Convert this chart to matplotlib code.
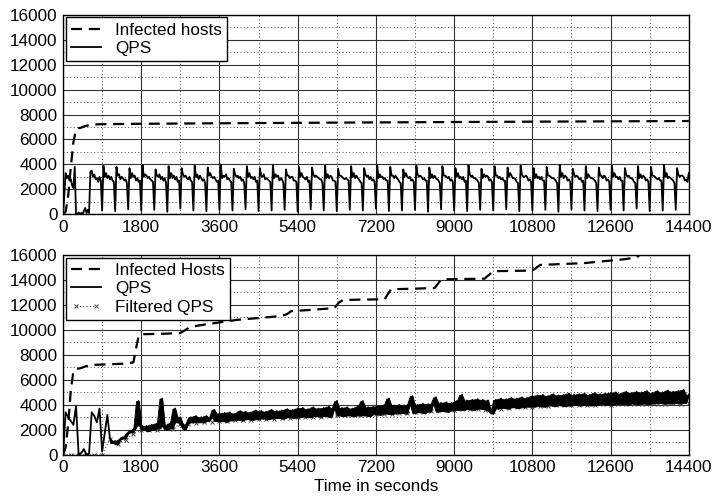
import numpy as np
import matplotlib
matplotlib.use("Agg")
from matplotlib import pyplot as plt
from matplotlib.ticker import MultipleLocator
from matplotlib.legend_handler import HandlerLine2D

plt.rcParams['font.family'] = ['Liberation Sans', 'DejaVu Sans']

# ---- top panel: infected hosts (time, value)
inf_top_t = [0, 60, 120, 180, 240, 300, 360, 420, 480, 600, 800, 1800, 3600, 7200, 10800, 14400]
inf_top_v = [0, 200, 1500, 3800, 5800, 6800, 6900, 6950, 7050, 7150, 7220, 7260, 7300, 7370, 7430, 7480]

# ---- top panel: QPS, one row per 300 s cycle, samples every 30 s
qps_top_cycles = [
    [0, 1500, 3300, 2900, 3100, 2700, 2800, 2300, 2100, 3800],
    [0, 0, 150, 0, 100, 0, 250, 500, 100, 350],
    [100, 3400, 3500, 3000, 3200, 2800, 2900, 2600, 3000, 2700],
    [300, 3900, 3000, 3300, 2900, 3100, 2800, 3000, 2700, 2600],
    [250, 3800, 3100, 3200, 2800, 3000, 2900, 2700, 2800, 2500],
    [400, 3700, 2900, 3300, 3000, 3100, 2700, 2900, 2600, 2700],
    [300, 3950, 3000, 3200, 3100, 2900, 3000, 2800, 2700, 2600],
    [350, 3600, 3100, 3000, 3200, 2800, 3000, 2700, 2900, 2500],
    [200, 3850, 2900, 3300, 2900, 3100, 2800, 3000, 2600, 2700],
    [450, 3700, 3200, 3000, 3100, 2900, 2800, 3000, 2700, 2600],
    [300, 3900, 3000, 3200, 2800, 3100, 2900, 2700, 2800, 2500],
    [250, 3750, 3100, 3300, 3000, 2900, 3000, 2800, 2600, 2700],
    [350, 4000, 2900, 3100, 3000, 3200, 2800, 2900, 2700, 2600],
    [300, 3650, 3200, 3000, 3100, 2900, 3000, 2700, 2800, 2500],
    [400, 3850, 3000, 3300, 2900, 3000, 2800, 3000, 2600, 2700],
    [250, 3700, 3100, 3000, 3200, 2800, 2900, 2800, 2700, 2600],
    [300, 3950, 2900, 3200, 3000, 3100, 2700, 2900, 2800, 2500],
    [350, 3600, 3100, 3100, 2900, 3000, 3000, 2700, 2700, 2600],
    [200, 3800, 3000, 3300, 3000, 2900, 2800, 3000, 2600, 2700],
    [400, 3750, 3200, 3000, 3100, 3000, 2900, 2800, 2800, 2500],
    [300, 3900, 2900, 3200, 2900, 3100, 3000, 2700, 2700, 2600],
    [250, 3650, 3100, 3100, 3000, 2900, 2800, 2900, 2800, 2700],
    [350, 3850, 3000, 3300, 2900, 3100, 2900, 2800, 2600, 2500],
    [300, 3700, 3200, 3000, 3100, 2800, 3000, 2700, 2800, 2600],
    [450, 3950, 2900, 3200, 3000, 3000, 2800, 2900, 2700, 2700],
    [250, 3800, 3100, 3100, 2900, 3100, 2900, 2800, 2600, 2500],
    [300, 3600, 3000, 3300, 3000, 2900, 3000, 2700, 2800, 2600],
    [350, 3900, 3200, 3000, 3100, 3000, 2800, 2900, 2700, 2700],
    [200, 3750, 2900, 3200, 2900, 3100, 2900, 2800, 2700, 2500],
    [400, 3850, 3100, 3100, 3000, 2900, 3000, 2700, 2800, 2600],
    [300, 3700, 3000, 3300, 2900, 3000, 2800, 3000, 2600, 2700],
    [250, 3950, 3200, 3000, 3100, 2900, 2900, 2800, 2700, 2500],
    [350, 3650, 2900, 3200, 3000, 3100, 3000, 2700, 2800, 2600],
    [300, 3850, 3100, 3100, 2900, 3000, 2800, 2900, 2700, 2700],
    [400, 3750, 3000, 3300, 3100, 2900, 2900, 2800, 2600, 2500],
    [250, 3900, 3200, 3000, 3000, 3100, 3000, 2700, 2800, 2600],
    [300, 3700, 2900, 3200, 2900, 3000, 2800, 3000, 2700, 2700],
    [350, 3800, 3100, 3100, 3000, 2900, 2900, 2800, 2700, 2500],
    [200, 3950, 3000, 3300, 2900, 3100, 3000, 2700, 2800, 2600],
    [400, 3650, 3200, 3000, 3100, 3000, 2800, 2900, 2600, 2700],
    [300, 3850, 2900, 3200, 3000, 2900, 2900, 2800, 2700, 2500],
    [250, 3750, 3100, 3100, 2900, 3100, 3000, 2700, 2800, 2600],
    [350, 3900, 3000, 3300, 3000, 3000, 2800, 3000, 2700, 2700],
    [300, 3700, 3200, 3000, 3100, 2900, 2900, 2800, 2600, 2500],
    [450, 3850, 2900, 3200, 2900, 3100, 3000, 2700, 2800, 2600],
    [250, 3800, 3100, 3100, 3000, 2900, 2800, 2900, 2700, 2700],
    [300, 3950, 3000, 3300, 2900, 3000, 2900, 2800, 2700, 2500],
    [350, 3700, 3200, 3000, 3100, 3100, 3000, 2700, 2800, 2600],
]
qps_top_last = 3300

# ---- bottom panel: infected hosts (time, value)
inf_bot_t = [0, 60, 120, 180, 240, 300, 420, 540, 720, 1080, 1440, 1620, 1680, 1740, 1800,
             2400, 2700, 2820, 2940, 3300, 3600, 4000, 4500, 5000, 5150, 5250, 5700, 6250,
             6350, 6450, 7400, 7500, 7550, 8550, 8650, 8720, 9700, 9800, 9900, 10800, 10900,
             10980, 12000, 12900, 13200, 13300, 14400]
inf_bot_v = [0, 600, 2500, 5200, 6700, 6850, 6950, 7100, 7200, 7250, 7300, 7400, 8500, 9500, 9650,
             9700, 9750, 10000, 10250, 10450, 10600, 10800, 10950, 11100, 11250, 11500, 11600, 11750,
             12200, 12400, 12450, 13000, 13250, 13350, 13800, 14050, 14100, 14400, 14700, 14750, 15000,
             15200, 15350, 15650, 15800, 16100, 16200]

# ---- bottom panel: QPS, one row per 1800 s, samples every 60 s
qps_bot_rows = [
    [0, 3400, 3000, 2700, 2400, 3900, 0, 150, 450, 0, 100, 3400, 3100, 2600, 3700,
     250, 1700, 3200, 1300, 950, 1100, 850, 1200, 1400, 1300, 1700, 1900, 1800, 2200, 4300],
    [2400, 2000, 2300, 1900, 2400, 2000, 2500, 2100, 4500, 2300, 2000, 2500, 2100, 3700, 2600,
     3000, 2400, 2000, 2500, 3000, 2600, 3100, 2600, 3000, 2600, 3100, 2700, 3000, 3600, 2700],
    [3300, 2700, 3350, 2650, 3400, 2750, 3300, 2800, 3500, 2750, 3450, 2850, 3400, 2800, 3550,
     2850, 3500, 2900, 3450, 2850, 3600, 2900, 3500, 2950, 3550, 2900, 3650, 3000, 3600, 2950],
    [3700, 3000, 3750, 3050, 3650, 3000, 3800, 3100, 3700, 3050, 3750, 3100, 3850, 3050, 3700,
     4300, 3150, 3750, 3100, 3800, 3150, 3700, 3100, 3850, 3150, 4300, 3150, 3800, 3100, 3850],
    [3250, 3900, 3200, 3950, 3300, 4500, 3250, 3950, 3300, 4000, 3350, 3950, 3300, 4050, 4700,
     3350, 4000, 3400, 4100, 3350, 4050, 3450, 4100, 4600, 3450, 4150, 3500, 4200, 3450, 4150],
    [3550, 4300, 3600, 4800, 3600, 4350, 3650, 4400, 3600, 4450, 3700, 4400, 3650, 4350, 3500,
     3300, 4400, 3700, 4500, 3750, 4450, 3700, 4550, 3800, 4500, 3750, 4600, 3800, 4550, 3850],
    [4700, 3850, 4750, 3900, 4800, 3850, 4700, 3950, 4850, 3900, 4750, 3950, 4800, 3900, 4900,
     3950, 4800, 4000, 4850, 3950, 4900, 4000, 4800, 3950, 4950, 4000, 4850, 4050, 4900, 4000],
    [4950, 4000, 5000, 4050, 4900, 4050, 5050, 4000, 4950, 4100, 5050, 4050, 5000, 4100, 5100,
     4050, 4950, 4100, 5100, 4150, 5000, 4100, 5150, 4100, 5050, 4150, 5100, 4100, 5200, 4150],
]
qps_bot_last = 4800

# ---- bottom panel: filtered QPS, one row per 1800 s, samples every 180 s
filt_rows = [
    [0, 0, 0, 0, 0, 0, 1300, 900, 1200, 1700],
    [2000, 1950, 2000, 2150, 2100, 2450, 2450, 2550, 2600, 2650],
    [2700, 2700, 2750, 2800, 2800, 2850, 2850, 2900, 2950, 2950],
    [3000, 3000, 3050, 3050, 3100, 3150, 3150, 3150, 3200, 3200],
    [3250, 3250, 3300, 3350, 3350, 3400, 3450, 3500, 3550, 3550],
    [3600, 3650, 3650, 3700, 3600, 3500, 3700, 3750, 3800, 3850],
    [3850, 3900, 3900, 3950, 3950, 3950, 4000, 4000, 4000, 4050],
    [4000, 4050, 4050, 4100, 4050, 4100, 4100, 4100, 4150, 4100],
]
filt_last = 4150

qps_top = np.append(np.concatenate(qps_top_cycles), qps_top_last)
t_top = np.arange(len(qps_top)) * 30
qps_bot = np.append(np.concatenate(qps_bot_rows), qps_bot_last)
t_bot = np.arange(len(qps_bot)) * 60
filt = np.append(np.concatenate(filt_rows), filt_last)
t_filt = np.arange(len(filt)) * 180

# the QPS trace is so dense that it prints as a solid ribbon: fill between
# each sample and the next one
nxt = np.append(qps_bot[1:], qps_bot[-1])
band = t_bot >= 1080

fig = plt.figure(figsize=(7.16, 4.97), dpi=100)
ax1 = fig.add_axes([0.088, 0.569, 0.874, 0.401])
ax2 = fig.add_axes([0.088, 0.085, 0.874, 0.402])

dash = (0, (5, 3))
fs = 12.3


def style(ax):
    ax.set_xlim(0, 14400)
    ax.set_ylim(0, 16000)
    ax.xaxis.set_major_locator(MultipleLocator(1800))
    ax.xaxis.set_minor_locator(MultipleLocator(900))
    ax.yaxis.set_major_locator(MultipleLocator(2000))
    ax.yaxis.set_minor_locator(MultipleLocator(1000))
    ax.grid(which='major', color='0.2', linestyle='-', linewidth=0.8)
    ax.grid(which='minor', color='0.3', linestyle=(0, (1, 2.5)), linewidth=0.7)
    ax.tick_params(which='both', length=0, labelsize=fs, pad=4)
    ax.set_axisbelow(True)
    for s in ax.spines.values():
        s.set_linewidth(1.0)


def add_legend(ax, hmap=None):
    leg = ax.legend(loc='upper left', fontsize=fs, fancybox=False, edgecolor='black',
                    framealpha=1, borderaxespad=0.15, handlelength=1.8, borderpad=0.3,
                    labelspacing=0.22, handletextpad=0.8, handler_map=hmap)
    leg.get_frame().set_linewidth(1.0)


style(ax1)
ax1.plot(inf_top_t, inf_top_v, color='black', linestyle=dash, linewidth=1.6, label='Infected hosts')
ax1.plot(t_top, qps_top, color='black', linewidth=1.3, label='QPS')
add_legend(ax1)

style(ax2)
ax2.plot(inf_bot_t, inf_bot_v, color='black', linestyle=dash, linewidth=1.6, label='Infected Hosts')
ax2.plot(t_bot, qps_bot, color='black', linewidth=1.3, label='QPS', zorder=3)
ax2.fill_between(t_bot[band], np.minimum(qps_bot, nxt)[band], np.maximum(qps_bot, nxt)[band],
                 color='black', linewidth=0.6, zorder=3)
filt_line, = ax2.plot(t_filt, filt, color='0.3', linestyle=(0, (1, 2)), linewidth=0.8, marker='x',
                      markersize=3, markeredgewidth=0.7, label='Filtered QPS', zorder=2)
add_legend(ax2, {filt_line: HandlerLine2D(numpoints=2)})
ax2.set_xlabel('Time in seconds', fontsize=fs, labelpad=3)

fig.savefig('out.png', dpi=100)
